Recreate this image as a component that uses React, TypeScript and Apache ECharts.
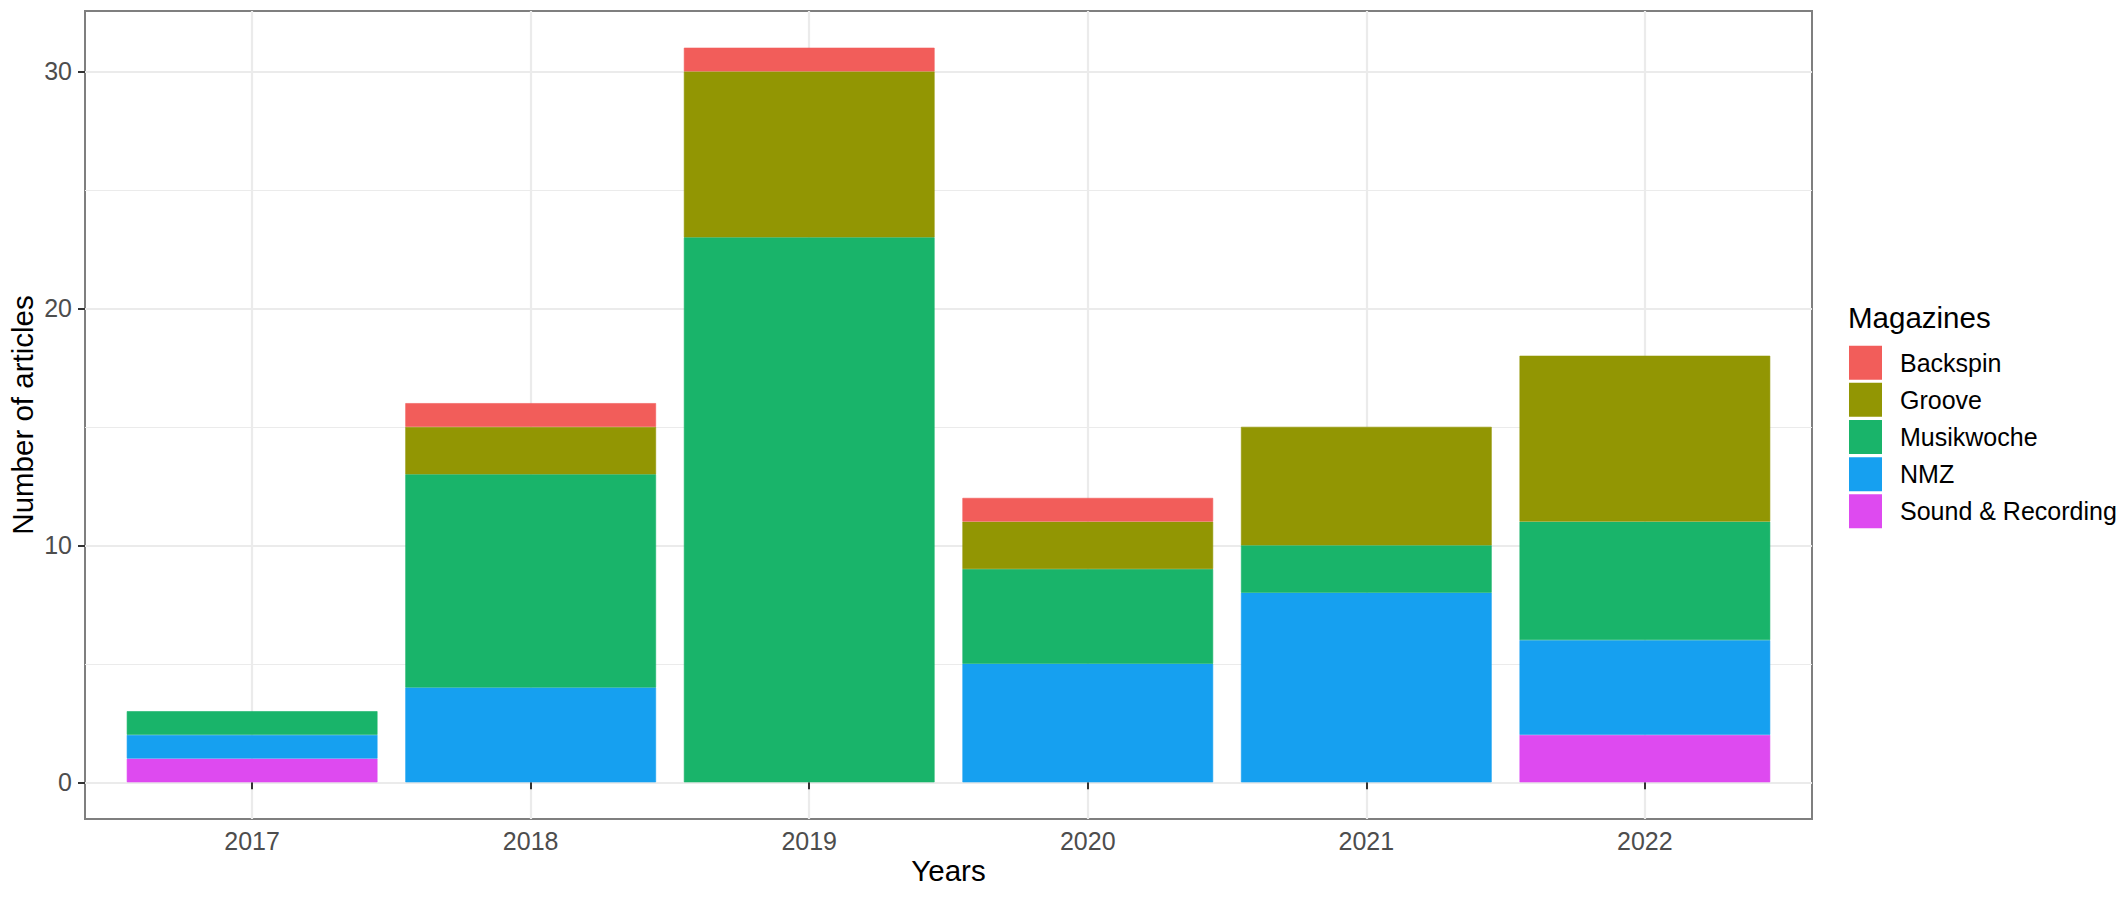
import React, { useEffect, useRef } from 'react';
import * as echarts from 'echarts';

// ---- data ----
const years = [2017, 2018, 2019, 2020, 2021, 2022];
const soundRecording = [1, 0, 0, 0, 0, 2];
const nmz = [1, 4, 0, 5, 8, 4];
const musikwoche = [1, 9, 23, 4, 2, 5];
const groove = [0, 2, 7, 2, 5, 7];
const backspin = [0, 1, 1, 1, 0, 0];
const legendOrder = ['Backspin', 'Groove', 'Musikwoche', 'NMZ', 'Sound & Recording'];
const yMajorTicks = [0, 10, 20, 30];
const yMinorTicks = [5, 15, 25];
const xTitle = 'Years';
const yTitle = 'Number of articles';
const legendTitle = 'Magazines';

// ---- styling ----
const FONT = "'Liberation Sans', Arial, Helvetica, sans-serif";
const colors: Record<string, string> = {
  Backspin: '#F25D5A',
  Groove: '#929603',
  Musikwoche: '#19B46A',
  NMZ: '#16A0F0',
  'Sound & Recording': '#DE4AF0',
};
const stackOrder: [string, number[]][] = [
  ['Sound & Recording', soundRecording],
  ['NMZ', nmz],
  ['Musikwoche', musikwoche],
  ['Groove', groove],
  ['Backspin', backspin],
];

// panel (ggplot-like, with 0.6 category expansion on each side)
const PANEL = { left: 85, top: 11, width: 1727, height: 808 };
const X_MIN = 2016.4;
const X_MAX = 2022.6;
const Y_MIN = -1.55;
const Y_MAX = 32.55;
const band = PANEL.width / (X_MAX - X_MIN);
const BAR_GRID = {
  left: PANEL.left + (years[0] - 0.5 - X_MIN) * band,
  top: PANEL.top,
  width: band * years.length,
  height: PANEL.height,
};

export default function App() {
  const ref = useRef<HTMLDivElement>(null);
  useEffect(() => {
    if (!ref.current) return;
    const chart = echarts.init(ref.current, undefined, { renderer: 'svg' });
    const option: any = {
      animation: false,
      backgroundColor: '#ffffff',
      grid: [
        {
          ...PANEL,
          show: true,
          borderColor: '#7f7f7f',
          borderWidth: 2,
          backgroundColor: 'transparent',
          containLabel: false,
          outerBoundsMode: 'none',
        },
        {
          ...BAR_GRID,
          show: false,
          containLabel: false,
          outerBoundsMode: 'none',
        },
      ],
      xAxis: [
        {
          gridIndex: 0,
          type: 'value',
          min: X_MIN,
          max: X_MAX,
          axisLine: { show: false },
          axisTick: {
            show: true,
            customValues: years,
            length: 7,
            lineStyle: { color: '#333333', width: 2 },
          },
          axisLabel: {
            customValues: years,
            margin: 9,
            fontSize: 25,
            color: '#4D4D4D',
            fontFamily: FONT,
            formatter: (v: number) => String(v),
          },
          splitLine: { show: true, lineStyle: { color: '#EBEBEB', width: 2.2 } },
        },
        {
          gridIndex: 1,
          type: 'category',
          data: years.map(String),
          boundaryGap: true,
          show: false,
          axisLine: { show: false },
          axisTick: { show: false },
          axisLabel: { show: false },
          splitLine: { show: false },
        },
      ],
      yAxis: [
        {
          gridIndex: 0,
          type: 'value',
          min: Y_MIN,
          max: Y_MAX,
          axisLine: { show: false },
          axisTick: {
            show: true,
            customValues: yMajorTicks,
            length: 7,
            lineStyle: { color: '#333333', width: 2 },
          },
          axisLabel: {
            customValues: yMajorTicks,
            margin: 13,
            fontSize: 25,
            color: '#4D4D4D',
            fontFamily: FONT,
            formatter: (v: number) => String(v),
          },
          splitLine: { show: true, lineStyle: { color: '#EBEBEB', width: 2.2 } },
        },
        {
          gridIndex: 0,
          type: 'value',
          min: Y_MIN,
          max: Y_MAX,
          axisLine: { show: false },
          axisTick: { show: false, customValues: yMinorTicks },
          axisLabel: { show: false, customValues: yMinorTicks },
          splitLine: { show: true, lineStyle: { color: '#EBEBEB', width: 1.2 } },
        },
        {
          gridIndex: 1,
          type: 'value',
          min: Y_MIN,
          max: Y_MAX,
          show: false,
          axisLine: { show: false },
          axisTick: { show: false },
          axisLabel: { show: false },
          splitLine: { show: false },
        },
      ],
      legend: {
        data: legendOrder,
        orient: 'vertical',
        left: 1849,
        top: 345.7,
        padding: 0,
        itemWidth: 33,
        itemHeight: 34,
        itemGap: 3.15,
        icon: 'rect',
        selectedMode: false,
        itemStyle: { borderWidth: 0 },
        textStyle: {
          fontSize: 25,
          color: '#000000',
          fontFamily: FONT,
          padding: [0, 0, 0, 13],
        },
      },
      graphic: [
        {
          type: 'text',
          x: 22,
          y: PANEL.top + PANEL.height / 2,
          rotation: Math.PI / 2,
          style: {
            text: yTitle,
            fontSize: 29.5,
            fontFamily: FONT,
            fill: '#000000',
            align: 'center',
            verticalAlign: 'middle',
          },
        },
        {
          type: 'text',
          x: PANEL.left + PANEL.width / 2,
          y: 870.5,
          style: {
            text: xTitle,
            fontSize: 29.5,
            fontFamily: FONT,
            fill: '#000000',
            align: 'center',
            verticalAlign: 'middle',
          },
        },
        {
          type: 'text',
          x: 1848,
          y: 317,
          style: {
            text: legendTitle,
            fontSize: 29.5,
            fontFamily: FONT,
            fill: '#000000',
            align: 'left',
            verticalAlign: 'middle',
          },
        },
      ],
      series: stackOrder.map(([name, vals]) => ({
        name,
        type: 'bar',
        stack: 'total',
        xAxisIndex: 1,
        yAxisIndex: 2,
        barWidth: '90%',
        itemStyle: { color: colors[name], borderColor: colors[name], borderWidth: 0.6 },
        emphasis: { disabled: true },
        data: vals.map((v) => (v === 0 ? null : v)),
      })),
    };
    chart.setOption(option);
    return () => chart.dispose();
  }, []);
  return (
    <div
      ref={ref}
      style={{ position: 'fixed', left: 0, top: 0, width: '2126px', height: '899px', background: '#fff' }}
    />
  );
}
